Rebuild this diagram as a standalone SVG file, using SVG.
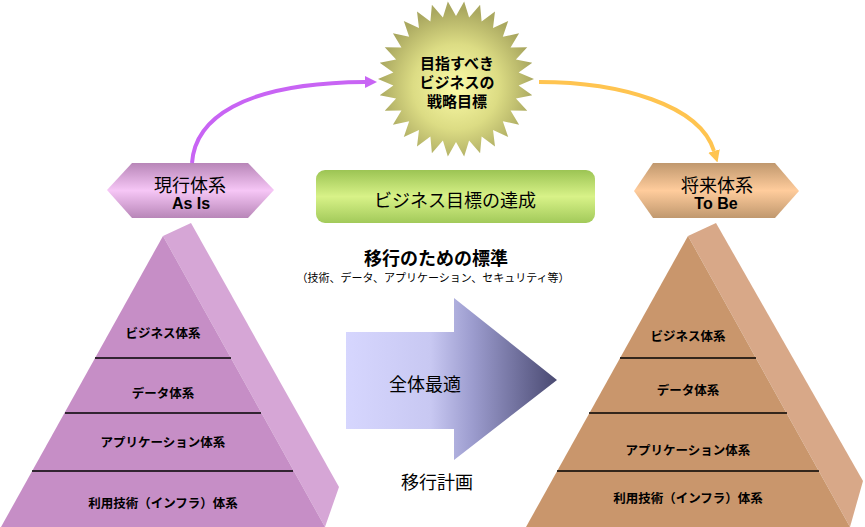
<svg xmlns="http://www.w3.org/2000/svg" width="865" height="527" viewBox="0 0 865 527">
<style>
text{font-family:"Liberation Sans","Noto Sans CJK JP",sans-serif;text-anchor:middle;fill:#000}
.lvl{font-size:12.5px;font-weight:bold}
.sep{stroke:#000;stroke-width:1.5}
.conn{fill:none;stroke-width:4}
</style>
<defs>
<radialGradient id="gStar" cx="0.5" cy="0.55" r="0.5">
<stop offset="0" stop-color="#fbfba8"/><stop offset="0.55" stop-color="#dcdc84"/><stop offset="1" stop-color="#aaa860"/>
</radialGradient>
<linearGradient id="gHexL" x1="0" y1="0" x2="0" y2="1">
<stop offset="0" stop-color="#b886b8"/><stop offset="0.5" stop-color="#f6c6f6"/><stop offset="1" stop-color="#b886b8"/>
</linearGradient>
<linearGradient id="gHexR" x1="0" y1="0" x2="0" y2="1">
<stop offset="0" stop-color="#c0986e"/><stop offset="0.5" stop-color="#ffcc9c"/><stop offset="1" stop-color="#c0986e"/>
</linearGradient>
<linearGradient id="gGreen" x1="0" y1="0" x2="0" y2="1">
<stop offset="0" stop-color="#9cc454"/><stop offset="0.5" stop-color="#d8f288"/><stop offset="1" stop-color="#a2ca5a"/>
</linearGradient>
<linearGradient id="gArrow" x1="346" y1="0" x2="557" y2="0" gradientUnits="userSpaceOnUse">
<stop offset="0" stop-color="#d6d6fe"/><stop offset="0.4" stop-color="#c8c8f2"/><stop offset="0.6" stop-color="#9c9cce"/><stop offset="1" stop-color="#4a4a72"/>
</linearGradient>
<marker id="mP" viewBox="0 0 12 12" refX="0" refY="6" markerWidth="12" markerHeight="12" markerUnits="userSpaceOnUse" orient="auto">
<path d="M0,0 L12,6 L0,12 z" fill="#c864f4"/>
</marker>
<marker id="mY" viewBox="0 0 12 12" refX="0" refY="6" markerWidth="12" markerHeight="12" markerUnits="userSpaceOnUse" orient="auto">
<path d="M0,0 L12,6 L0,12 z" fill="#ffc450"/>
</marker>
</defs>

<g id="connectors">
<path class="conn" d="M192,163 C195,120 240,83 365,82" stroke="#c864f4" marker-end="url(#mP)"/>
<path class="conn" d="M539,82 C620,82 700,105 714,151" stroke="#ffc450" marker-end="url(#mY)"/>
</g>

<g id="goal">
<polygon transform="translate(456,79)" fill="url(#gStar)" points="78,0 62.65,6.58 76.29,16.22 59.92,19.47 71.25,31.72 54.56,31.5 63.1,45.85 46.82,42.15 52.19,57.96 37.03,50.97 39,67.55 25.62,57.55 24.1,74.19 13.1,61.62 8.15,77.57 0,63 -8.15,77.57 -13.1,61.62 -24.1,74.19 -25.62,57.55 -39,67.55 -37.03,50.97 -52.19,57.96 -46.82,42.15 -63.1,45.85 -54.56,31.5 -71.25,31.72 -59.92,19.47 -76.29,16.22 -62.65,6.58 -78,0 -62.65,-6.58 -76.29,-16.22 -59.92,-19.47 -71.25,-31.72 -54.56,-31.5 -63.1,-45.85 -46.82,-42.15 -52.19,-57.96 -37.03,-50.97 -39,-67.55 -25.62,-57.55 -24.1,-74.19 -13.1,-61.62 -8.15,-77.57 0,-63 8.15,-77.57 13.1,-61.62 24.1,-74.19 25.62,-57.55 39,-67.55 37.03,-50.97 52.19,-57.96 46.82,-42.15 63.1,-45.85 54.56,-31.5 71.25,-31.72 59.92,-19.47 76.29,-16.22 62.65,-6.58"/>
<text x="457" y="69" font-size="15" font-weight="bold">目指すべき</text>
<text x="457" y="88" font-size="15" font-weight="bold">ビジネスの</text>
<text x="457" y="107" font-size="15" font-weight="bold">戦略目標</text>
</g>

<g id="asis-label">
<polygon points="107,190 132,163 248,163 274,190 248,218 132,218" fill="url(#gHexL)"/>
<text x="190" y="192" font-size="18">現行体系</text>
<text x="191" y="209" font-size="16" font-weight="bold">As Is</text>
</g>

<g id="tobe-label">
<polygon points="634,191 653,163 775,163 799,191 775,218 653,218" fill="url(#gHexR)"/>
<text x="717" y="192" font-size="18">将来体系</text>
<text x="716" y="209" font-size="16" font-weight="bold">To Be</text>
</g>

<g id="achievement">
<rect x="316" y="170" width="279" height="53" rx="9" fill="url(#gGreen)"/>
<text x="455" y="207" font-size="18">ビジネス目標の達成</text>
</g>

<g id="standards">
<text x="436" y="265" font-size="18" font-weight="bold">移行のための標準</text>
<text x="433" y="282" font-size="11">（技術、データ、アプリケーション、セキュリティ等）</text>
</g>

<g id="asis-pyramid">
<polygon points="163,236 191,223 339,487 325,527" fill="#d6a6d6"/>
<polygon points="163,236 325,527 1,527" fill="#c68ec6"/>
<line class="sep" x1="95" y1="358" x2="231" y2="358"/>
<line class="sep" x1="65" y1="413" x2="261" y2="413"/>
<line class="sep" x1="32" y1="471" x2="293" y2="471"/>
<text class="lvl" x="163" y="338">ビジネス体系</text>
<text class="lvl" x="163" y="398">データ体系</text>
<text class="lvl" x="163" y="447">アプリケーション体系</text>
<text class="lvl" x="163" y="508">利用技術（インフラ）体系</text>
</g>

<g id="migration">
<polygon points="346,332 454,332 454,298 557,380 454,460 454,429 346,429" fill="url(#gArrow)"/>
<text x="425" y="391" font-size="18">全体最適</text>
<text x="437" y="489" font-size="18">移行計画</text>
</g>

<g id="tobe-pyramid">
<polygon points="688,236 716,223 863,481 850,527" fill="#d8a888"/>
<polygon points="688,236 850,527 526,527" fill="#c9966c"/>
<line class="sep" x1="620" y1="358" x2="756" y2="358"/>
<line class="sep" x1="589" y1="413" x2="787" y2="413"/>
<line class="sep" x1="557" y1="471" x2="819" y2="471"/>
<text class="lvl" x="688" y="341">ビジネス体系</text>
<text class="lvl" x="688" y="395">データ体系</text>
<text class="lvl" x="688" y="455">アプリケーション体系</text>
<text class="lvl" x="688" y="503">利用技術（インフラ）体系</text>
</g>
</svg>
